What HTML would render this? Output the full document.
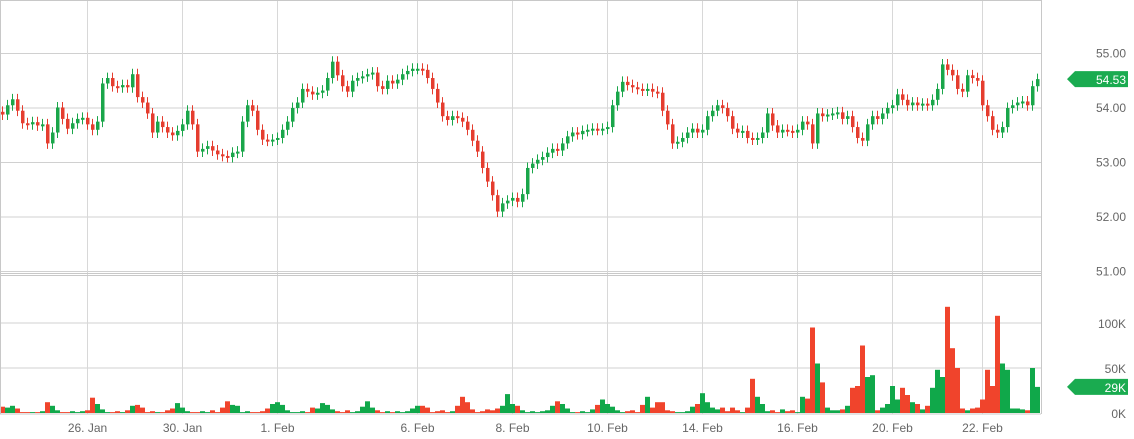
<!DOCTYPE html>
<html><head><meta charset="utf-8"><style>
html,body{margin:0;padding:0;background:#fff;}
svg{display:block;font-family:"Liberation Sans",sans-serif;}
</style></head><body>
<svg id="chart" width="1134" height="439" xmlns="http://www.w3.org/2000/svg">
<g id="grid"></g>
<g id="vol"></g>
<g id="candles"></g>
<g id="axes"></g>
</svg>
<script>
const closes=[53.88,54.05,54.16,53.95,53.72,53.70,53.74,53.68,53.70,53.35,53.55,54.01,53.80,53.62,53.72,53.80,53.82,53.70,53.60,53.75,
54.45,54.55,54.40,54.38,54.42,54.38,54.62,54.20,54.10,53.90,53.55,53.75,53.65,53.55,53.50,53.58,53.70,53.95,53.70,53.20,
53.25,53.30,53.22,53.15,53.12,53.10,53.18,53.20,53.75,54.05,53.95,53.60,53.42,53.40,53.42,53.45,53.60,53.75,54.00,54.10,
54.35,54.30,54.25,54.28,54.32,54.55,54.85,54.60,54.40,54.30,54.50,54.55,54.58,54.62,54.65,54.40,54.35,54.50,54.45,54.52,
54.62,54.68,54.72,54.72,54.70,54.55,54.35,54.10,53.85,53.78,53.85,53.82,53.75,53.60,53.40,53.20,52.90,52.65,52.40,52.10,
52.25,52.30,52.35,52.28,52.42,52.90,52.98,53.05,53.10,53.18,53.25,53.22,53.35,53.48,53.55,53.52,53.58,53.60,53.62,53.60,
53.62,53.65,54.05,54.30,54.48,54.42,54.38,54.35,54.32,54.35,54.30,54.28,53.95,53.70,53.35,53.38,53.45,53.55,53.62,53.55,
53.60,53.85,53.95,54.05,54.00,53.85,53.62,53.55,53.58,53.45,53.42,53.45,53.55,53.90,53.68,53.55,53.60,53.58,53.55,53.60,
53.75,53.70,53.35,53.90,53.85,53.88,53.90,53.92,53.80,53.85,53.65,53.45,53.40,53.70,53.85,53.80,53.90,54.00,54.05,54.25,
54.15,54.05,54.10,54.05,54.08,54.05,54.15,54.35,54.80,54.70,54.60,54.35,54.30,54.60,54.55,54.50,54.05,53.85,53.60,53.55,
53.65,54.00,54.05,54.10,54.12,54.05,54.40,54.53];
const volumes=[7,6,8,5,1,1,1,1,2,12,8,3,1,1,2,1,2,3,17,10,4,1,1,2,1,3,8,9,6,1,2,1,1,3,5,11,6,2,1,1,2,1,3,1,6,13,9,8,1,2,1,1,2,
5,10,12,9,3,1,1,2,1,6,5,11,9,4,2,1,3,1,2,7,13,6,3,1,2,1,2,1,2,5,8,8,6,1,2,3,1,2,8,18,12,4,1,2,4,3,5,8,21,10,8,3,1,2,1,2,3,
8,13,10,5,1,1,2,1,4,9,15,10,7,3,1,2,3,1,9,18,6,12,12,3,2,1,1,2,7,10,22,12,6,4,6,2,6,3,1,6,38,18,10,2,3,1,4,2,3,1,18,16,95,55,34,6,3,
3,4,8,28,30,75,40,42,3,6,10,30,15,28,20,12,10,4,8,28,48,40,118,72,50,5,3,5,6,15,48,30,108,55,48,5,5,4,3,50,29];
const priceTicks=[55,54,53,52,51];
const volTicks=[100,50,0];
const volTickLabels=["100K","50K","0K"];
const dateLabels=["26. Jan","30. Jan","1. Feb","6. Feb","8. Feb","10. Feb","14. Feb","16. Feb","20. Feb","22. Feb"];
const dateIdx=[17,36,55,83,102,121,140,159,178,196];

const NS="http://www.w3.org/2000/svg";
const GREEN="#1aa64a",RED="#e53d2f";
const xS=i=>2.5+i*5;
const yP=v=>108-(v-54)*54.5;
const yV=v=>413-v*0.9;
function mk(tag,attrs,parent){const e=document.createElementNS(NS,tag);for(const k in attrs)e.setAttribute(k,attrs[k]);parent.appendChild(e);return e;}
const grid=document.getElementById('grid'),axes=document.getElementById('axes');
const candles=document.getElementById('candles'),vol=document.getElementById('vol');

priceTicks.forEach(t=>{
  const l=mk('line',{x1:0,x2:1041,y1:yP(t),y2:yP(t),stroke:'#d0d0d0','stroke-width':1},grid);
  
  
  const tx=mk('text',{x:1126,y:yP(t)+4,'text-anchor':'end','font-size':12,fill:'#666'},axes);
  tx.textContent=t.toFixed(2);
  
  
});
volTicks.forEach((t,k)=>{
  if(t>0){const l=mk('line',{x1:0,x2:1041,y1:yV(t),y2:yV(t),stroke:'#d0d0d0','stroke-width':1},grid);
  
  }
  const tx=mk('text',{x:1126,y:yV(t)+5,'text-anchor':'end','font-size':12,fill:'#666'},axes);
  tx.textContent=volTickLabels[k];
  
  
});
dateIdx.forEach((d,k)=>{
  const x=xS(d);
  const l=mk('line',{x1:x,x2:x,y1:0,y2:414,stroke:'#d8d8d8','stroke-width':1},grid);
  
  
  const tx=mk('text',{x:x,y:432,'text-anchor':'middle','font-size':12,fill:'#666'},axes);
  tx.textContent=dateLabels[k];
  
  
});
[[0,0.5,1041,0.5],[0,273.5,1041,273.5],[0,275.5,1041,275.5],[0,414,1041,414],[1041.5,0,1041.5,414],[0.5,0,0.5,414]].forEach(a=>{
  const l=mk('line',{x1:a[0],y1:a[1],x2:a[2],y2:a[3],stroke:'#c8c8c8','stroke-width':1},axes);
  
  
});

closes.forEach((c,i)=>{
  const o=i>0?closes[i-1]:c+0.05;
  const up=c>=o,col=up?GREEN:RED,x=xS(i);
  const hi=Math.max(o,c)+0.1,lo=Math.min(o,c)-0.1;
  const w=mk('line',{x1:x,x2:x,y1:yP(hi),y2:yP(lo),stroke:col,'stroke-width':1},candles);
  
  
  const top=yP(Math.max(o,c)),h=Math.max(2,yP(Math.min(o,c))-top);
  const b=mk('rect',{x:x-1.5,y:top,width:3.5,height:h,fill:col},candles);
  
  
  const v=volumes[i]||0;
  const vb=mk('rect',{x:x-2.5,y:yV(v),width:5,height:413-yV(v),fill:up?'#10a84a':'#f0442c'},vol);
  
  
});

function tag(y,label,name){
  const g=mk('g',{},axes);
  
  
  mk('path',{d:`M1067 ${y} L1075 ${y-8} L1128 ${y-8} L1128 ${y+8} L1075 ${y+8} Z`,fill:'#1aab50'},g);
  const t=mk('text',{x:1126,y:y+5,'text-anchor':'end','font-size':12,fill:'#fff'},g);
  t.textContent=label;
}
tag(yP(closes[closes.length-1]),closes[closes.length-1].toFixed(2),'last-price-tag');
tag(yV(volumes[closes.length-1]),volumes[closes.length-1]+'K','last-volume-tag');
</script>
</body></html>
